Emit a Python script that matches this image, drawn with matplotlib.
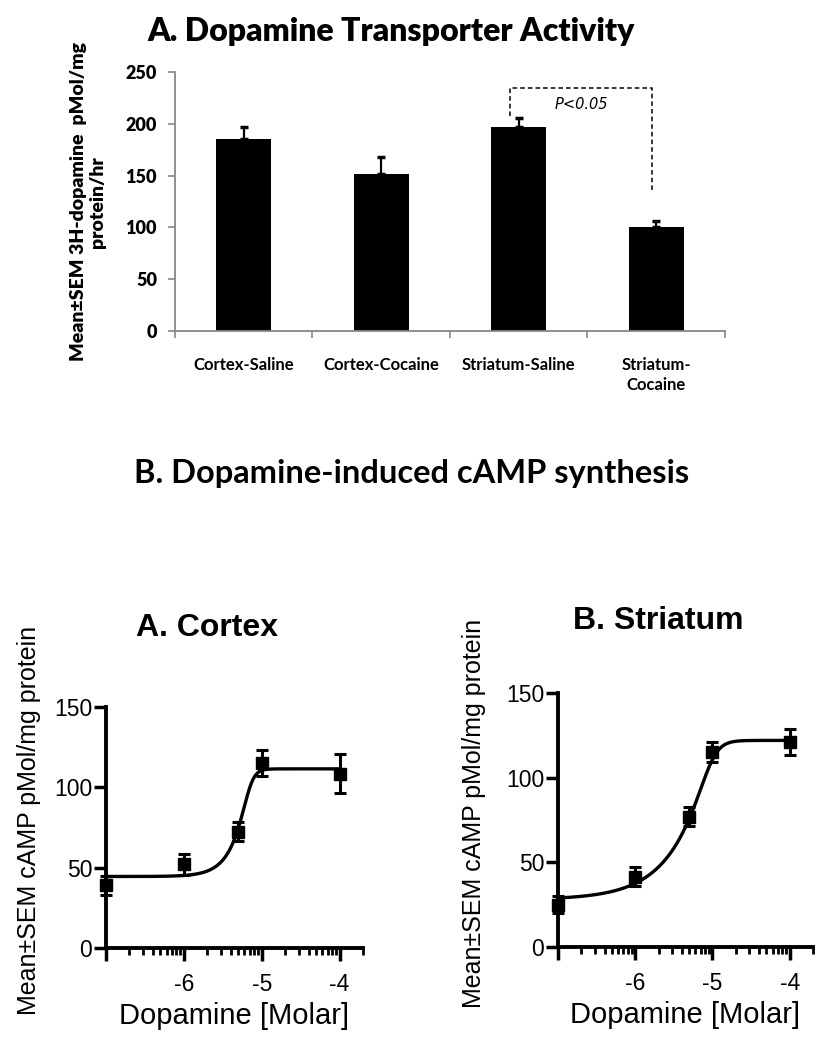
import numpy as np
import matplotlib
matplotlib.use('Agg')
import matplotlib.pyplot as plt
from matplotlib.ticker import FixedLocator, FuncFormatter, LogLocator, NullFormatter

plt.rcParams['axes.unicode_minus'] = False

# ---- panel A: transporter activity (bar chart)
groups = ['Cortex-Saline', 'Cortex-Cocaine', 'Striatum-Saline', 'Striatum-\nCocaine']
uptake_mean = [185, 152, 197, 100]
uptake_sem = [11.5, 16, 8.5, 6]
uptake_ticks = [0, 50, 100, 150, 200, 250]

# significance bracket between Striatum-Saline and Striatum-Cocaine
sig_pair = (2, 3)
sig_top = 234.5
sig_left_end = 208
sig_right_end = 134
sig_text = 'P<0.05'

# ---- panel B: dopamine-induced cAMP (dose response)
dose = [1e-7, 1e-6, 5e-6, 1e-5, 1e-4]
cortex_mean = [39, 52, 72.5, 115, 108.5]
cortex_sem = [6, 6.5, 6.2, 8, 12]
striatum_mean = [25, 41.5, 77, 115, 121]
striatum_sem = [5, 5.5, 5.8, 6, 7.7]

# fitted curve parameters (bottom, top, logEC50, hill, asymmetry)
cortex_fit = (44.5, 111.5, -5.16, 8.0, 0.3)
striatum_fit = (28, 122, -5.01, 5.0, 0.2)

camp_ticks = [0, 50, 100, 150]


def fit_curve(logx, p):
    bottom, top, logec, hill, s = p
    return bottom + (top - bottom) / (1 + 10 ** ((logec - logx) * hill)) ** s


W, H = 828, 1050
fig = plt.figure(figsize=(W / 100, H / 100), dpi=100)
fig.patch.set_facecolor('white')

CAL = ['Lato', 'DejaVu Sans']
ARI = ['Liberation Sans', 'DejaVu Sans']

# ------------------------------------------------------------ top chart
ax = fig.add_axes([175 / W, 1 - 331 / H, 550 / W, 259 / H])
x = np.arange(len(groups))
ax.bar(x, uptake_mean, width=0.4, color='black', zorder=2)
ax.errorbar(x, uptake_mean, yerr=[np.zeros(len(x)), uptake_sem], fmt='none',
            ecolor='black', elinewidth=1.6, capsize=3.2, capthick=2.5, zorder=3)
ax.set_xlim(-0.5, len(groups) - 0.5)
ax.set_ylim(0, 250)
ax.set_yticks(uptake_ticks)
ax.set_yticklabels([str(t) for t in uptake_ticks], fontfamily=CAL,
                   fontweight='heavy', fontsize=13)
ax.xaxis.set_major_locator(FixedLocator(np.arange(len(groups) + 1) - 0.5))
ax.xaxis.set_major_formatter(NullFormatter())
ax.xaxis.set_minor_locator(FixedLocator(x))
ax.set_xticklabels(groups, minor=True, fontfamily=CAL, fontweight='bold',
                   fontsize=12, linespacing=1.25, va='top')
ax.tick_params(axis='x', which='minor', length=0, pad=19)
ax.tick_params(axis='both', which='major', color='#888888', length=5, width=1.2)
ax.tick_params(axis='y', pad=8)
for sp in ['top', 'right']:
    ax.spines[sp].set_visible(False)
for sp in ['left', 'bottom']:
    ax.spines[sp].set_color('#888888')
    ax.spines[sp].set_linewidth(1.3)

xl = sig_pair[0] - 0.065
xr = sig_pair[1] - 0.03
ax.plot([xl, xl, xr, xr], [sig_left_end, sig_top, sig_top, sig_right_end],
        color='black', lw=1.1, dashes=(3, 2), zorder=4)
ax.text((xl + xr) / 2, 218.5, sig_text, ha='center', va='center',
        fontsize=10.5, style='italic', family='DejaVu Sans')

fig.text(88 / W, 1 - 202 / H, 'Mean\u00b1SEM 3H-dopamine  pMol/mg\nprotein/hr',
         rotation=90, ha='center', va='center', multialignment='center',
         fontfamily=CAL, fontweight='heavy', fontsize=14, linespacing=1.2)
fig.text(391 / W, 1 - 41 / H, 'A. Dopamine Transporter Activity',
         ha='center', va='baseline', fontfamily=CAL, fontweight='heavy',
         fontsize=23)

fig.text(412 / W, 1 - 483 / H, 'B. Dopamine-induced cAMP synthesis',
         ha='center', va='baseline', fontfamily=CAL, fontweight='bold',
         fontsize=23.5)

# ------------------------------------------------------------ dose response
panels = [
    ([106 / W, 1 - 948 / H, 257 / W, 241 / H], cortex_mean, cortex_sem,
     cortex_fit, 'A. Cortex', (207, 636), (29, 820)),
    ([558 / W, 1 - 947 / H, 255 / W, 254 / H], striatum_mean, striatum_sem,
     striatum_fit, 'B. Striatum', (658, 629), (474, 813)),
]

for rect, mean, sem, fit, title, tpos, ypos in panels:
    a = fig.add_axes(rect)
    a.set_xscale('log')
    lx = np.linspace(np.log10(dose[0]), np.log10(dose[-1]), 400)
    a.plot(10 ** lx, fit_curve(lx, fit), color='black', lw=2.4, zorder=3,
           clip_on=False)
    a.errorbar(dose, mean, yerr=sem, fmt='s', color='black', ms=8.5,
               elinewidth=2.2, capsize=4.5, capthick=2.2, zorder=4,
               clip_on=False)
    a.set_xlim(1e-7, 2e-4)
    a.set_ylim(0, 150)
    a.set_yticks(camp_ticks)
    a.set_yticklabels([str(t) for t in camp_ticks], fontfamily=ARI, fontsize=16.5)
    a.xaxis.set_major_locator(FixedLocator([1e-7, 1e-6, 1e-5, 1e-4]))
    a.xaxis.set_major_formatter(FuncFormatter(
        lambda v, pos: '' if v < 5e-7 else '%d' % round(np.log10(v))))
    a.xaxis.set_minor_locator(LogLocator(base=10, subs=np.arange(2, 10), numticks=20))
    a.xaxis.set_minor_formatter(NullFormatter())
    for lab in a.get_xticklabels():
        lab.set_fontfamily(ARI)
        lab.set_fontsize(16.5)
    a.tick_params(axis='both', which='major', length=9, width=2.5, color='black', pad=1)
    a.tick_params(axis='x', which='major', pad=9)
    a.tick_params(axis='x', which='minor', length=5, width=2, color='black')
    for sp in ['top', 'right']:
        a.spines[sp].set_visible(False)
    for sp in ['left', 'bottom']:
        a.spines[sp].set_linewidth(2.8)
    a.set_xlabel('Dopamine [Molar]', fontfamily=ARI, fontsize=21, labelpad=4)
    fig.text(tpos[0] / W, 1 - tpos[1] / H, title, ha='center', va='baseline',
             fontfamily=ARI, fontweight='bold', fontsize=23)
    fig.text(ypos[0] / W, 1 - ypos[1] / H, 'Mean\u00b1SEM cAMP pMol/mg protein',
             rotation=90, ha='center', va='center', fontfamily=ARI, fontsize=18)

fig.savefig('out.png', dpi=100, facecolor='white')
